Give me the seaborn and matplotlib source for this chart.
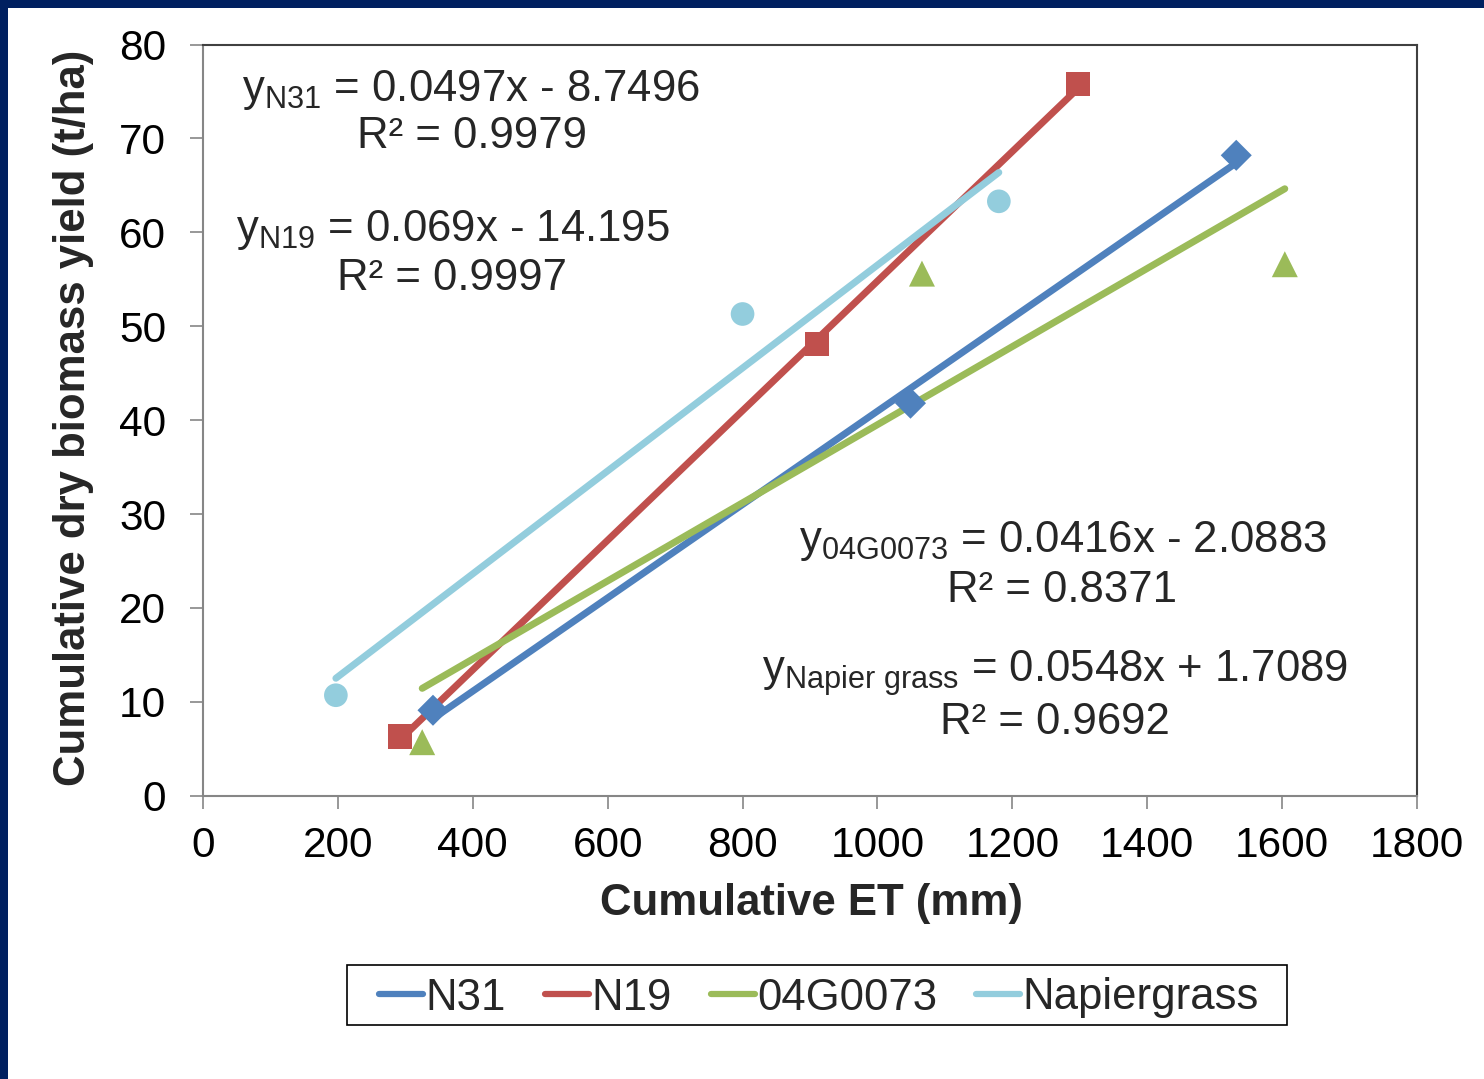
import matplotlib
matplotlib.use("Agg")
import matplotlib.pyplot as plt
import seaborn as sns
import numpy as np
import pandas as pd
from matplotlib.lines import Line2D
from matplotlib.patches import Rectangle

# ---------------- data ----------------
series_names = ["N31", "N19", "04G0073", "Napiergrass"]
n31_x = [341, 1049, 1532]
n31_y = [9.1, 41.8, 68.2]
n19_x = [292, 910, 1297]
n19_y = [6.3, 48.1, 75.8]
g04_x = [325, 1066, 1604]
g04_y = [5.7, 55.6, 56.6]
nap_x = [197, 800, 1180]
nap_y = [10.7, 51.3, 63.3]
slopes = [0.0497, 0.069, 0.0416, 0.0548]
intercepts = [-8.7496, -14.195, -2.0883, 1.7089]
r2_values = ["0.9979", "0.9997", "0.8371", "0.9692"]
eq_subscripts = ["N31", "N19", "04G0073", "Napier\\ grass"]
x_ticks = [0, 200, 400, 600, 800, 1000, 1200, 1400, 1600, 1800]
y_ticks = [0, 10, 20, 30, 40, 50, 60, 70, 80]
x_label = "Cumulative ET (mm)"
y_label = "Cumulative dry biomass yield (t/ha)"

colors = ["#4F81BD", "#C0504D", "#9BBB59", "#93CDDD"]
markers = ["D", "s", "^", "o"]
msizes = [250, 310, 350, 290]

sns.set_style("white")
plt.rcParams["font.family"] = ["Liberation Sans", "DejaVu Sans"]
plt.rcParams["mathtext.fontset"] = "custom"
plt.rcParams["mathtext.rm"] = "Liberation Sans"
plt.rcParams["mathtext.it"] = "Liberation Sans"

W, H = 1484, 1079
fig = plt.figure(figsize=(W / 100, H / 100), dpi=100)
fig.patch.set_facecolor("white")

L, R, T, B = 203, 1417, 44.5, 795.7
ax = fig.add_axes([L / W, 1 - B / H, (R - L) / W, (B - T) / H])

xs = [n31_x, n19_x, g04_x, nap_x]
ys = [n31_y, n19_y, g04_y, nap_y]

# trendlines
for i, name in enumerate(series_names):
    x0, x1 = min(xs[i]), max(xs[i])
    tx = np.array([x0, x1], dtype=float)
    ty = slopes[i] * tx + intercepts[i]
    df_t = pd.DataFrame({"x": tx, "y": ty})
    sns.lineplot(data=df_t, x="x", y="y", ax=ax, color=colors[i], lw=5,
                 solid_capstyle="round", legend=False, zorder=2)

# markers
for i, name in enumerate(series_names):
    df_p = pd.DataFrame({"x": xs[i], "y": ys[i]})
    sns.scatterplot(data=df_p, x="x", y="y", ax=ax, color=colors[i],
                    marker=markers[i], s=msizes[i], edgecolor="none",
                    legend=False, zorder=3)

ax.set_xlim(0, 1800)
ax.set_ylim(0, 80)
ax.set_xticks(x_ticks)
ax.set_yticks(y_ticks)
ax.tick_params(axis="both", which="major", labelsize=30.5, colors="#868686",
               labelcolor="black", length=9.5, width=1.2, direction="out")
ax.tick_params(axis="x", pad=12, bottom=True)
ax.tick_params(axis="y", pad=17, left=True)

for s in ["left", "bottom"]:
    ax.spines[s].set_color("#868686")
    ax.spines[s].set_linewidth(1.5)
for s in ["top", "right"]:
    ax.spines[s].set_color("#404040")
    ax.spines[s].set_linewidth(1.5)

ax.set_xlabel(x_label, fontsize=31.5, fontweight="bold")
ax.set_ylabel(y_label, fontsize=31.5, fontweight="bold")
ax.xaxis.label.set_va("center")
ax.yaxis.label.set_va("center")
ax.xaxis.set_label_coords((811 - L) / (R - L), (B - 903) / (B - T))
ax.yaxis.set_label_coords((74 - L) / (R - L), (B - 418) / (B - T))

# equations (figure pixel positions)
eq_pos = [(471, 90, 472, 137), (453, 230, 452, 278),
          (1063, 541, 1062, 590), (1055, 673, 1055, 722)]
signs = ["-", "-", "-", "+"]
for i in range(4):
    ex, ey, rx, ry = eq_pos[i]
    sl_txt = f"{slopes[i]:g}"
    ic_txt = f"{abs(intercepts[i]):g}"
    eq = r"$\mathregular{y_{" + eq_subscripts[i] + r"}}$" + f" = {sl_txt}x {signs[i]} {ic_txt}"
    fig.text(ex / W, 1 - ey / H, eq, fontsize=31.5, ha="center", va="center")
    fig.text(rx / W, 1 - ry / H, f"R² = {r2_values[i]}", fontsize=31.5,
             ha="center", va="center")

# legend (frame drawn separately)
handles = [Line2D([0], [0], color=c, lw=4.5, solid_capstyle="round") for c in colors]
leg = fig.legend(handles, series_names, loc="center", bbox_to_anchor=(819 / W, 1 - 998 / H),
                 ncol=4, fontsize=31.5, frameon=False, handlelength=1.0,
                 handletextpad=0.05, columnspacing=0.9, borderpad=0.2, borderaxespad=0)
fig.patches.append(Rectangle((347 / W, 1 - 1025 / H), (1287 - 347) / W, 60 / H,
                             transform=fig.transFigure, facecolor="none",
                             edgecolor="black", linewidth=1.2, zorder=5))

# slide border (navy, top and left)
fig.patches.append(Rectangle((0, 1 - 8 / H), 1, 8 / H, transform=fig.transFigure,
                             facecolor="#002060", edgecolor="none", zorder=10))
fig.patches.append(Rectangle((0, 0), 8 / W, 1, transform=fig.transFigure,
                             facecolor="#002060", edgecolor="none", zorder=10))

fig.savefig("out.png", dpi=100, facecolor="white")
